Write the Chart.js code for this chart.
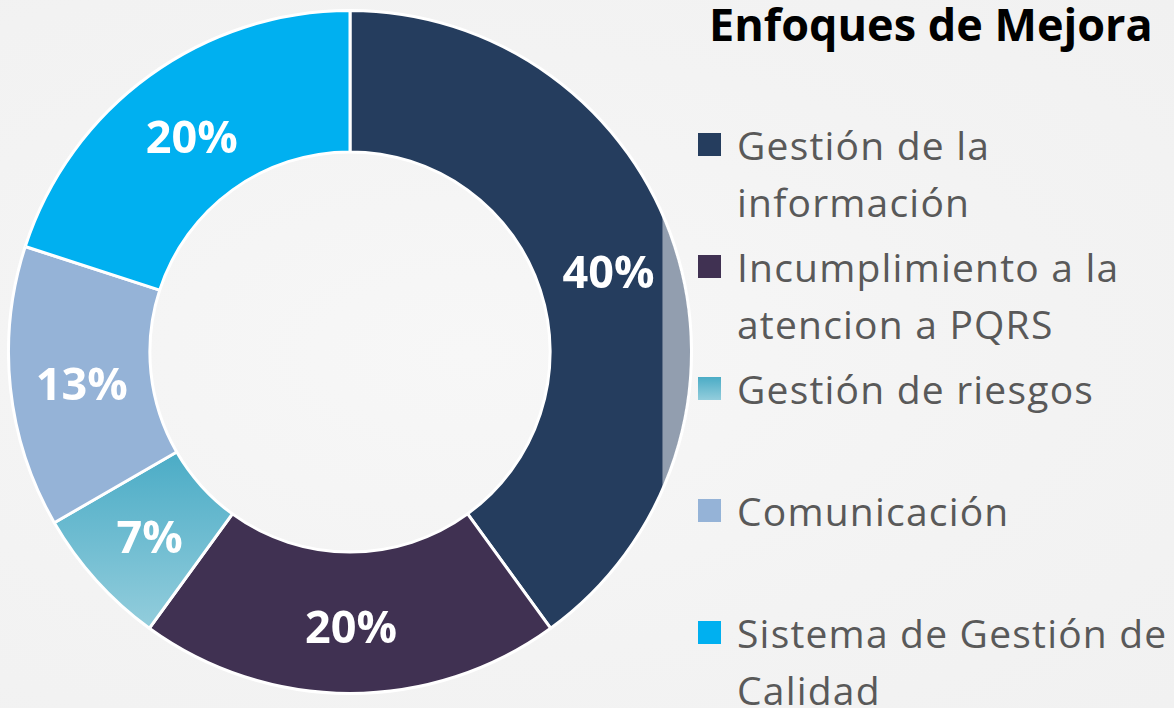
<!DOCTYPE html>
<html>
<head>
<meta charset="utf-8">
<script src="https://cdn.jsdelivr.net/npm/chart.js@4.4.1/dist/chart.umd.min.js"></script>
<style>
  html, body { margin: 0; padding: 0; }
  body { width: 1174px; height: 708px; overflow: hidden; position: relative;
         background: radial-gradient(ellipse at 40% 50%, #f7f7f7 0%, #f3f3f3 60%, #f1f1f1 100%);
         font-family: "Open Sans", sans-serif; }
  #chartBox { position: absolute; left: 7px; top: 9px; width: 686px; height: 686px; }
  #title { position: absolute; left: 709px; top: -7px; font-weight: 700; font-size: 45px;
           color: #000; white-space: nowrap; }
  .item { position: absolute; left: 698px; width: 480px; }
  .sw { position: absolute; left: 0; top: 16px; width: 23px; height: 23px; }
  .txt { position: absolute; left: 39px; top: 0; font-size: 39px; letter-spacing: 1.2px; line-height: 57px; color: #595959; white-space: nowrap; }
</style>
</head>
<body>
<div id="chartBox"><canvas id="c"></canvas></div>
<div id="title"></div>
<div id="legend"></div>
<script>
const chartTitle = "Enfoques de Mejora";
const categories = ["Gestión de la información", "Incumplimiento a la atencion a PQRS", "Gestión de riesgos", "Comunicación", "Sistema de Gestión de Calidad"];
const legendLines = [["Gestión de la", "información"], ["Incumplimiento a la", "atencion a PQRS"], ["Gestión de riesgos"], ["Comunicación"], ["Sistema de Gestión de", "Calidad"]];
const values = [6, 3, 1, 2, 3];
const colors = ["#253D5E", "#403152", "TEAL_GRADIENT", "#95B3D7", "#00B0F0"];
const tealTop = "#4BACC6";
const tealBottom = "#93CDDC";

document.getElementById('title').textContent = chartTitle;
const legend = document.getElementById('legend');
legendLines.forEach((lines, i) => {
  const d = document.createElement('div');
  d.className = 'item';
  d.style.top = (116 + i * 122) + 'px';
  const sw = document.createElement('div');
  sw.className = 'sw';
  sw.style.top = '17px';
  sw.style.background = colors[i] === "TEAL_GRADIENT" ? `linear-gradient(${tealTop}, ${tealBottom})` : colors[i];
  const t = document.createElement('div');
  t.className = 'txt';
  t.innerHTML = lines.join('<br>');
  d.appendChild(sw); d.appendChild(t);
  legend.appendChild(d);
});

const total = values.reduce((a, b) => a + b, 0);

function arcGradient(chart, el) {
  const R = el.outerRadius, r = el.innerRadius;
  const ys = [el.startAngle, el.endAngle].flatMap(a => [el.y + Math.sin(a) * R, el.y + Math.sin(a) * r]);
  const g = chart.ctx.createLinearGradient(0, Math.min(...ys), 0, Math.max(...ys));
  g.addColorStop(0, tealTop);
  g.addColorStop(1, tealBottom);
  return g;
}

const gradientPlugin = {
  id: 'tealGradient',
  beforeDatasetsDraw(chart) {
    const meta = chart.getDatasetMeta(0);
    meta.data.forEach((el, i) => {
      if (colors[i] === "TEAL_GRADIENT") {
        el.options.backgroundColor = arcGradient(chart, el);
      }
    });
  }
};

const labelPlugin = {
  id: 'pctLabels',
  afterDatasetsDraw(chart) {
    const ctx = chart.ctx;
    const meta = chart.getDatasetMeta(0);
    // lighter band over right edge of first arc
    const a0 = meta.data[0];
    ctx.save();
    ctx.beginPath();
    ctx.arc(a0.x, a0.y, a0.outerRadius - 1, 0, Math.PI * 2);
    ctx.arc(a0.x, a0.y, a0.innerRadius, 0, Math.PI * 2, true);
    ctx.clip();
    ctx.fillStyle = 'rgba(255,255,255,0.5)';
    const bx = a0.x + a0.outerRadius * 0.915;
    ctx.fillRect(bx, a0.y - a0.outerRadius, a0.outerRadius, a0.outerRadius * 2);
    ctx.restore();

    ctx.save();
    ctx.font = 'bold 45px "Open Sans", sans-serif';
    ctx.fillStyle = '#ffffff';
    ctx.textAlign = 'center';
    ctx.textBaseline = 'middle';
    meta.data.forEach((arc, i) => {
      const mid = (arc.startAngle + arc.endAngle) / 2;
      const r = (arc.innerRadius + arc.outerRadius) / 2;
      const x = arc.x + Math.cos(mid) * r + 1;
      const y = arc.y + Math.sin(mid) * r + 7;
      ctx.fillText(Math.round(values[i] / total * 100) + '%', x, y);
    });
    ctx.restore();
  }
};

new Chart(document.getElementById('c'), {
  type: 'doughnut',
  data: {
    labels: categories,
    datasets: [{
      data: values,
      backgroundColor: (ctx) => colors[ctx.dataIndex] === "TEAL_GRADIENT" ? tealTop : colors[ctx.dataIndex],
      borderColor: '#ffffff',
      borderWidth: 3
    }]
  },
  options: {
    responsive: true,
    maintainAspectRatio: false,
    animation: false,
    cutout: '58.6%',
    layout: { padding: 0 },
    plugins: { legend: { display: false }, tooltip: { enabled: false }, title: { display: false } }
  },
  plugins: [gradientPlugin, labelPlugin]
});
</script>
</body>
</html>
